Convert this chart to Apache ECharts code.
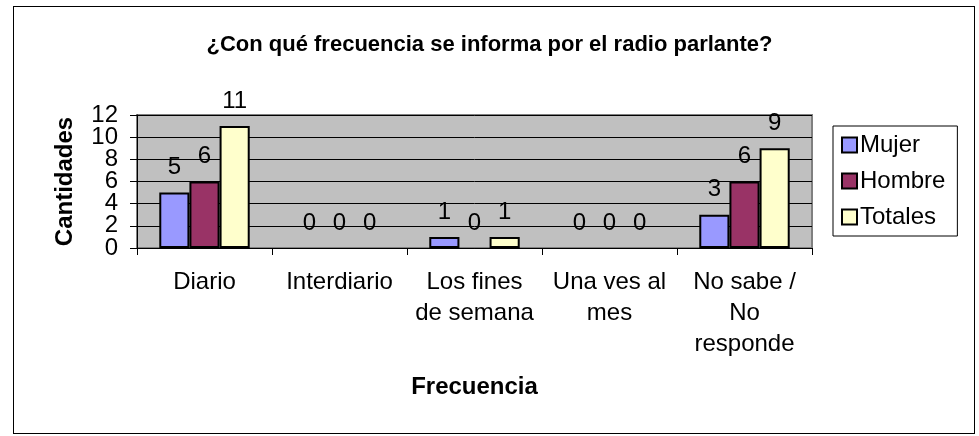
<!DOCTYPE html>
<html>
<head>
<meta charset="utf-8">
<script src="https://cdn.jsdelivr.net/npm/echarts@6/dist/echarts.min.js"></script>
<style>
  html, body { margin: 0; padding: 0; background: #fff; }
  #chart { width: 979px; height: 436px; }
  .frame {
    position: absolute; left: 13px; top: 6px; width: 960px; height: 426px;
    border: 1px solid #000; pointer-events: none;
  }
</style>
</head>
<body>
<div id="chart"></div>
<div class="frame"></div>
<script>
const categories = ['Diario', 'Interdiario', 'Los fines\nde semana', 'Una ves al\nmes', 'No sabe /\nNo\nresponde']
const mujer = [5, 0, 1, 0, 3]
const hombre = [6, 0, 0, 0, 6]
const totales = [11, 0, 1, 0, 9]
const yTicks = [0, 2, 4, 6, 8, 10, 12]

const font = "'Liberation Sans', Arial, sans-serif"

// zero-height bars get no outline, like Excel
function barSeries(name, data, color) {
  return {
    name,
    type: 'bar',
    yAxisIndex: 0,
    data: data.map(v => (v === 0 ? { value: v, itemStyle: { borderWidth: 0 } } : v)),
    barGap: '0%',
    barCategoryGap: '33%',
    itemStyle: { color, borderColor: '#000', borderWidth: 2 },
    label: {
      show: true,
      position: 'top',
      distance: 13,
      color: '#000',
      fontSize: 24,
      fontFamily: font,
    },
  }
}

const chart = echarts.init(document.getElementById('chart'))

chart.setOption({
  animation: false,
  backgroundColor: '#fff',
  textStyle: { fontFamily: font, color: '#000' },
  title: {
    text: '¿Con qué frecuencia se informa por el radio parlante?',
    left: 'center',
    top: 34,
    padding: 0,
    textStyle: { fontSize: 22, fontWeight: 'bold', color: '#000', fontFamily: font },
  },
  legend: {
    orient: 'vertical',
    left: 833,
    top: 126,
    padding: [7, 12, 7, 8],
    itemGap: 12,
    itemWidth: 15,
    itemHeight: 15,
    icon: 'rect',
    borderColor: '#000',
    borderWidth: 1,
    backgroundColor: '#fff',
    textStyle: { fontSize: 24, color: '#000', fontFamily: font, padding: [0, 0, 0, -2] },
    data: ['Mujer', 'Hombre', 'Totales'],
  },
  grid: {
    left: 137,
    right: 167,
    top: 115,
    bottom: 188,
    show: true,
    backgroundColor: '#C0C0C0',
    borderColor: '#808080',
    borderWidth: 2,
  },
  xAxis: {
    type: 'category',
    data: categories,
    name: 'Frecuencia',
    nameLocation: 'middle',
    nameGap: 127,
    nameTextStyle: { fontSize: 24, fontWeight: 'bold', color: '#000', fontFamily: font },
    axisLine: { lineStyle: { color: '#000', width: 1 } },
    axisTick: { show: true, length: 7, lineStyle: { color: '#000' } },
    axisLabel: { fontSize: 24, color: '#000', lineHeight: 31, margin: 19, interval: 0, fontFamily: font },
  },
  yAxis: [
    {
      type: 'value',
      min: yTicks[0],
      max: yTicks[yTicks.length - 1],
      interval: yTicks[1] - yTicks[0],
      name: 'Cantidades',
      nameLocation: 'middle',
      nameGap: 60,
      nameTextStyle: { fontSize: 24, fontWeight: 'bold', color: '#000', fontFamily: font },
      axisLine: { show: true, lineStyle: { color: '#000', width: 1 } },
      axisTick: { show: true, length: 7, lineStyle: { color: '#000' } },
      axisLabel: { show: false },
      splitLine: { show: true, lineStyle: { color: '#000', width: 1 } },
    },
    {
      // tick labels only: a category axis shows every label even when they touch
      type: 'category',
      position: 'left',
      data: yTicks.map(String),
      boundaryGap: false,
      axisLine: { show: false },
      axisTick: { show: false },
      splitLine: { show: false },
      axisLabel: { interval: 0, fontSize: 24, color: '#000', margin: 19, fontFamily: font },
    },
  ],
  series: [
    barSeries('Mujer', mujer, '#9999FF'),
    barSeries('Hombre', hombre, '#993366'),
    barSeries('Totales', totales, '#FFFFCC'),
  ],
})
</script>
</body>
</html>
